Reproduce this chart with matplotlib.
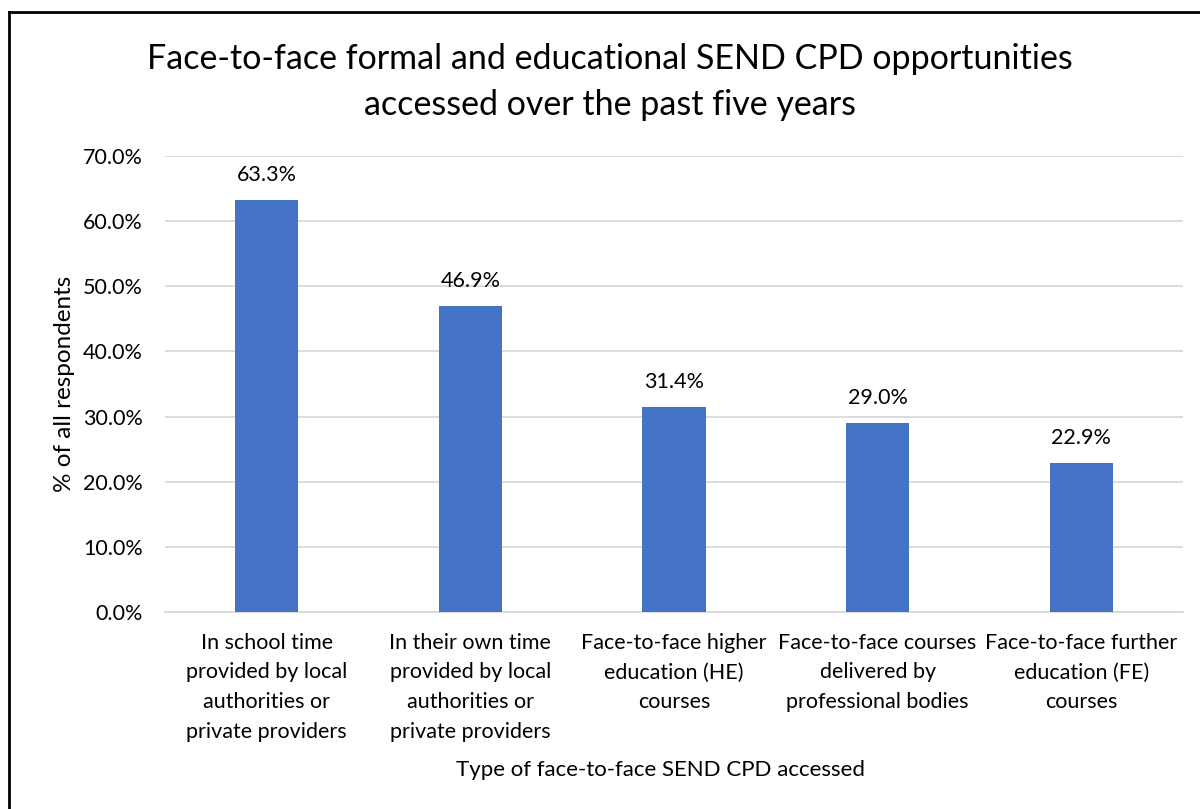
import matplotlib.pyplot as plt
from matplotlib.lines import Line2D

plt.rcParams['font.family'] = ['Lato', 'DejaVu Sans']

categories = ['In school time\nprovided by local\nauthorities or\nprivate providers',
              'In their own time\nprovided by local\nauthorities or\nprivate providers',
              'Face-to-face higher\neducation (HE)\ncourses',
              'Face-to-face courses\ndelivered by\nprofessional bodies',
              'Face-to-face further\neducation (FE)\ncourses']
values = [63.3, 46.9, 31.4, 29.0, 22.9]
yticks = [0, 10, 20, 30, 40, 50, 60, 70]

fig = plt.figure(figsize=(12, 8.09), dpi=100)
ax = fig.add_axes([0.1375, 0.2435, 0.8483, 0.5637])

x = range(len(values))
bars = ax.bar(x, values, width=0.31, color='#4472c4', zorder=3)
for b, v in zip(bars, values):
    ax.annotate(f'{v:.1f}%', (b.get_x() + b.get_width() / 2, v),
                xytext=(0, 18), textcoords='offset points',
                ha='center', va='center', fontsize=15.5, color='#000000')

ax.set_xlim(-0.5, len(values) - 0.5)
ax.set_ylim(0, 70)
ax.set_yticks(yticks)
ax.set_yticklabels([f'{t:.1f}%' for t in yticks], fontsize=15.5)
ax.set_xticks(list(x))
ax.set_xticklabels(categories, fontsize=15.5, linespacing=1.6)
ax.tick_params(length=0)
ax.tick_params(axis='y', pad=16)
ax.tick_params(axis='x', pad=15)
ax.grid(axis='y', color='#d9d9d9', linewidth=1.3, zorder=0)
for s in ['top', 'right', 'left']:
    ax.spines[s].set_visible(False)
ax.spines['bottom'].set_color('#d9d9d9')
ax.spines['bottom'].set_linewidth(1.3)

ax.set_ylabel('% of all respondents', fontsize=17.5, labelpad=6)
fig.text(0.55, 0.048, 'Type of face-to-face SEND CPD accessed', ha='center',
         va='center', fontsize=16)
fig.text(0.508, 0.899, 'Face-to-face formal and educational SEND CPD opportunities\n'
         'accessed over the past five years', ha='center', va='center',
         fontsize=24.5, linespacing=1.55)

# chart border
fig.add_artist(Line2D([9 / 1200, 9 / 1200], [0, 1 - 12 / 809], color='black',
                      lw=2, transform=fig.transFigure))
fig.add_artist(Line2D([9 / 1200, 1], [1 - 12 / 809, 1 - 12 / 809], color='black',
                      lw=2, transform=fig.transFigure))

fig.savefig('out.png', dpi=100)
